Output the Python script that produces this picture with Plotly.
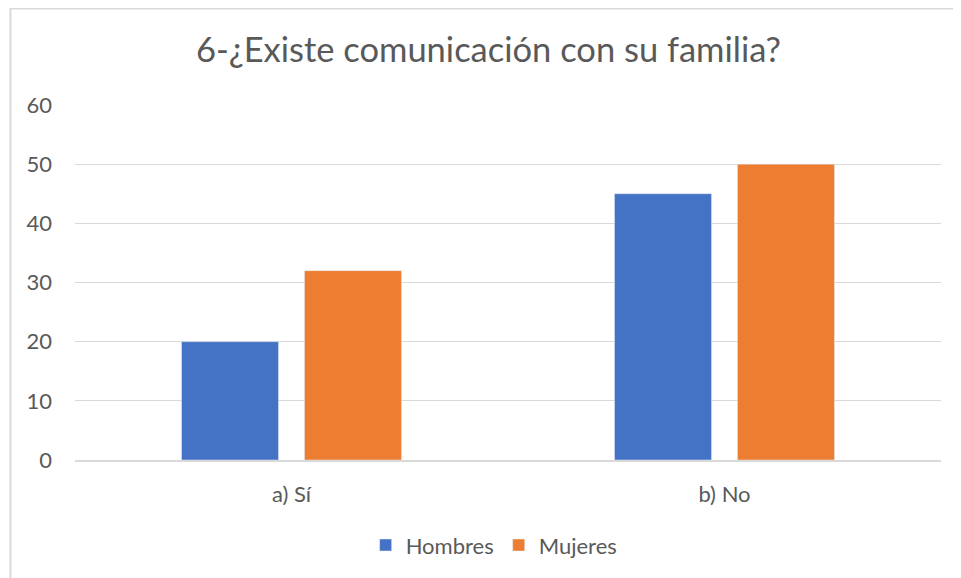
import plotly.graph_objects as go

categories = ["a) Sí", "b) No"]
hombres = [20, 45]
mujeres = [32, 50]
y_ticks = [0, 10, 20, 30, 40, 50, 60]

TEXT = "#595959"
GRID = "#d9d9d9"
FONT = "Lato"

fig = go.Figure()
fig.add_trace(go.Bar(x=categories, y=hombres, name="Hombres", marker_color="#4472c4"))
fig.add_trace(go.Bar(x=categories, y=mujeres, name="Mujeres", marker_color="#ed7d31"))

fig.update_layout(
    width=961,
    height=578,
    margin=dict(l=67, r=28, t=97, b=126),
    paper_bgcolor="white",
    plot_bgcolor="white",
    font=dict(family=FONT, color=TEXT, size=22),
    title=dict(
        text="6-¿Existe comunicación con su familia?",
        x=0.5,
        xanchor="center",
        y=0.927,
        yanchor="middle",
        font=dict(family=FONT, size=34.5, color=TEXT),
    ),
    barmode="group",
    bargap=0.432,
    bargroupgap=0.211,
    legend=dict(
        orientation="h",
        x=0.484,
        xanchor="center",
        y=-0.24,
        yanchor="middle",
        font=dict(size=22, color=TEXT),
    ),
    xaxis=dict(
        showgrid=False,
        showline=True,
        linecolor=GRID,
        linewidth=1.5,
        ticks="",
        ticklabelstandoff=14,
        tickfont=dict(size=22, color=TEXT),
    ),
    yaxis=dict(
        range=[0, 60],
        tickvals=y_ticks,
        showgrid=True,
        gridcolor=GRID,
        gridwidth=1,
        zeroline=False,
        showline=False,
        ticks="",
        ticklabelstandoff=22,
        tickfont=dict(size=22, color=TEXT),
    ),
    shapes=[
        dict(
            type="rect",
            xref="paper",
            yref="paper",
            x0=-0.0745,
            x1=1.2,
            y0=-0.6,
            y1=1.2718,
            line=dict(color=GRID, width=2),
            fillcolor="rgba(0,0,0,0)",
            layer="below",
        )
    ],
)

fig.write_html("out.html")
